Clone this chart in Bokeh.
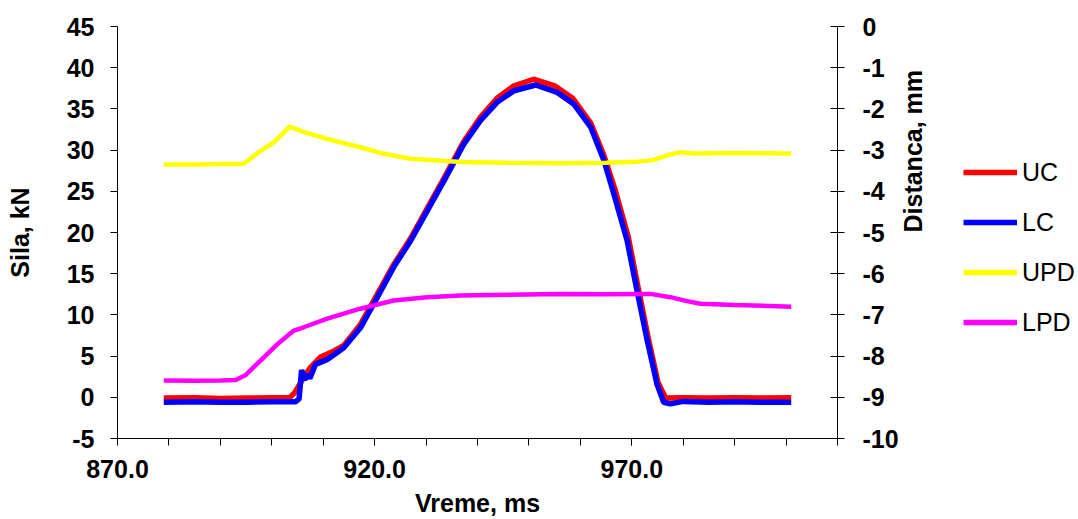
import math
from bokeh.plotting import figure
from bokeh.layouts import row
from bokeh.models import Range1d, LinearAxis, FixedTicker, Legend, LegendItem, NumeralTickFormatter
from bokeh.embed import file_html
from bokeh.resources import INLINE

# ---- data ----
uc_t = [879, 885, 890, 895, 900, 903.5, 904.5, 906.2, 907.5, 909.5, 912, 914, 917.2, 919.8, 923.7, 927, 930.2,
        933.5, 937.3, 940.6, 943.8, 947.1, 950.9, 955, 958.5, 962, 964.6, 966.7, 969.3, 971.2, 973.2, 975.1,
        976.6, 980, 985, 990, 995, 1001]
uc_v = [-0.1, -0.05, -0.15, -0.1, -0.05, -0.05, 0.6, 2.4, 3.6, 4.9, 5.6, 6.3, 8.8, 11.7, 16.1, 19.3, 22.9,
        26.6, 31.0, 34.0, 36.3, 37.8, 38.6, 37.8, 36.3, 33.3, 29.3, 25.3, 19.5, 13.4, 7.2, 1.8,
        -0.1, -0.05, -0.1, -0.05, -0.1, -0.05]

lc_t = [879, 885, 890, 895, 900, 904.6, 905.3, 905.8, 906.4, 906.9, 907.4, 908.5, 910.8, 914, 917.2, 919.8,
        923.7, 927, 930.2, 933.5, 937.3, 940.6, 943.8, 947.1, 951.3, 955.5, 958.7, 962, 964.6, 966.5, 969.1,
        971, 973, 974.9, 976.2, 977.5, 980, 985, 990, 995, 1001]
lc_v = [-0.6, -0.55, -0.6, -0.6, -0.55, -0.55, -0.2, 3.3, 2.1, 2.8, 2.3, 4.0, 4.6, 6.0, 8.4, 11.3,
        15.8, 19.0, 22.6, 26.3, 30.7, 33.6, 35.8, 37.2, 37.9, 37.0, 35.6, 32.8, 28.7, 24.7, 19.0,
        13.0, 6.9, 1.6, -0.6, -0.8, -0.5, -0.6, -0.55, -0.6, -0.6]

upd_t = [879, 885, 890, 894.5, 897.5, 900.5, 903.5, 906, 910.8, 917.2, 921.8, 927, 936.7, 946, 956.1, 965,
         971.1, 974.2, 977, 979.5, 982, 990, 1001]
upd_v = [-3.35, -3.35, -3.34, -3.33, -3.05, -2.8, -2.43, -2.55, -2.73, -2.93, -3.09, -3.21, -3.29, -3.31, -3.32,
         -3.31, -3.28, -3.24, -3.12, -3.05, -3.08, -3.07, -3.08]

lpd_t = [879, 885, 890, 893, 895, 897.8, 901, 904.3, 906.2, 910.8, 917.2, 923.7, 930.2, 936.7, 946, 956.1,
         965, 973.6, 977.5, 980.5, 983.4, 990, 1001]
lpd_v = [-8.59, -8.6, -8.59, -8.58, -8.45, -8.11, -7.72, -7.38, -7.30, -7.09, -6.85, -6.65, -6.57, -6.53, -6.51,
         -6.49, -6.50, -6.49, -6.57, -6.66, -6.73, -6.76, -6.80]

series_names = ["UC", "LC", "UPD", "LPD"]
series_colors = ["#FF0000", "#0000FF", "#FFFF00", "#FF00FF"]
series_t = [uc_t, lc_t, upd_t, lpd_t]
series_v = [uc_v, lc_v, upd_v, lpd_v]

x_major = [870, 920, 970]
x_minor = list(range(880, 1011, 10))
left_ticks = list(range(-5, 46, 5))
right_ticks = list(range(-10, 1, 1))

FONT = "Liberation Sans"
FS = "25px"
H = 519
W1 = 959
W2 = 1078 - W1

p = figure(width=W1, height=H, output_backend="svg", toolbar_location=None,
           x_range=Range1d(870, 1010), y_range=Range1d(-5, 45),
           min_border_left=117, min_border_right=W1 - 117 - 720, min_border_top=26,
           min_border_bottom=H - 26 - 412)
p.outline_line_color = None
p.grid.visible = False
p.extra_y_ranges = {"dist": Range1d(-10, 0)}

p.line(uc_t, uc_v, line_color=series_colors[0], line_width=5.5)
p.line(lc_t, lc_v, line_color=series_colors[1], line_width=5.5)
p.line(upd_t, upd_v, line_color=series_colors[2], line_width=4.5, y_range_name="dist")
p.line(lpd_t, lpd_v, line_color=series_colors[3], line_width=4.5, y_range_name="dist")

# bottom axis
xa = p.xaxis[0]
xa.ticker = FixedTicker(ticks=x_major, minor_ticks=x_minor)
xa.formatter = NumeralTickFormatter(format="0.0")
xa.axis_label = "Vreme, ms"

# left axis
ya = p.yaxis[0]
ya.ticker = FixedTicker(ticks=left_ticks)
ya.axis_label = "Sila, kN"
ya.major_label_overrides = {t: str(t) for t in left_ticks}

# right axis
ra = LinearAxis(y_range_name="dist", ticker=FixedTicker(ticks=right_ticks), axis_label="Distanca, mm")
ra.major_label_overrides = {t: str(t) for t in right_ticks}
p.add_layout(ra, "right")

for ax in [xa, ya, ra]:
    ax.axis_line_color = "black"
    ax.axis_line_width = 1
    ax.major_tick_line_color = "black"
    ax.minor_tick_line_color = "black"
    ax.major_label_text_font = FONT
    ax.major_label_text_font_style = "bold"
    ax.major_label_text_font_size = FS
    ax.major_label_text_color = "black"
    ax.axis_label_text_font = FONT
    ax.axis_label_text_font_style = "bold"
    ax.axis_label_text_font_size = FS
    ax.axis_label_text_color = "black"
    ax.major_tick_out = 7
    ax.major_tick_in = 0

xa.minor_tick_out = 7
xa.minor_tick_in = 0
xa.major_label_standoff = 14
xa.axis_label_standoff = 8

ya.minor_tick_line_color = None
ya.major_label_standoff = 16
ya.axis_label_standoff = 30

ra.minor_tick_line_color = None
ra.major_tick_in = 7
ra.major_label_standoff = 18
ra.axis_label_standoff = 11
ra.axis_label_orientation = math.pi / 2

# legend in a narrow companion figure to the right (series drawn off-screen there)
p2 = figure(width=W2, height=H, output_backend="svg", toolbar_location=None,
            x_range=Range1d(0, 1), y_range=Range1d(0, 1),
            x_axis_location=None, y_axis_location=None,
            min_border_left=0, min_border_right=0, min_border_top=0, min_border_bottom=0)
p2.outline_line_color = None
p2.grid.visible = False
items = []
for name, col, t, v in zip(series_names, series_colors, series_t, series_v):
    r = p2.line(t, v, line_color=col, line_width=5.5)
    items.append(LegendItem(label=name, renderers=[r]))

legend = Legend(items=items, location=(4, H - 418), padding=0, margin=0, spacing=20,
                glyph_width=54, glyph_height=30, label_height=30, label_standoff=5,
                label_text_font=FONT, label_text_font_size=FS, label_text_color="black",
                border_line_color=None, background_fill_alpha=0)
p2.add_layout(legend, "center")

layout = row(p, p2)
open("out.html", "w").write(file_html(layout, INLINE))
